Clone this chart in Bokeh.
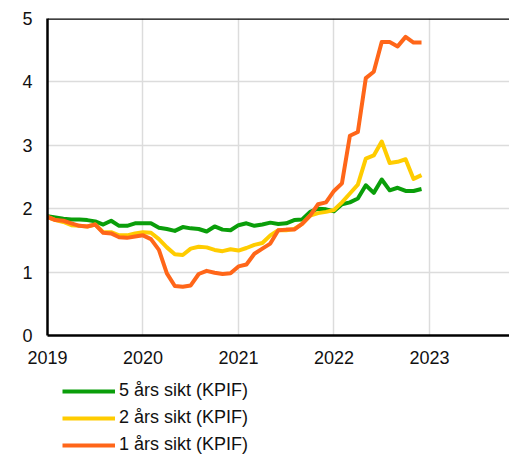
from bokeh.plotting import figure
from bokeh.layouts import column
from bokeh.models import (Range1d, FixedTicker, Span, Legend, LegendItem,
                          ColumnDataSource)
from bokeh.embed import file_html
from bokeh.resources import INLINE

# Monthly observations, Jan 2019 - Dec 2022
start_year = 2019
n_months = 48

five_year = [1.88, 1.86, 1.84, 1.83, 1.83, 1.82, 1.80, 1.75, 1.81, 1.73, 1.73, 1.77,
             1.77, 1.77, 1.70, 1.68, 1.65, 1.71, 1.69, 1.68, 1.64, 1.72, 1.67, 1.66,
             1.74, 1.77, 1.73, 1.75, 1.78, 1.76, 1.77, 1.82, 1.83, 1.95, 2.00, 1.99,
             1.96, 2.07, 2.10, 2.16, 2.37, 2.25, 2.46, 2.29, 2.33, 2.28, 2.28, 2.31]

two_year = [1.87, 1.82, 1.79, 1.74, 1.73, 1.72, 1.75, 1.63, 1.63, 1.58, 1.58, 1.61,
            1.63, 1.62, 1.52, 1.39, 1.28, 1.27, 1.37, 1.40, 1.39, 1.35, 1.33, 1.36,
            1.34, 1.38, 1.43, 1.46, 1.58, 1.66, 1.66, 1.68, 1.76, 1.89, 1.93, 1.95,
            1.98, 2.10, 2.24, 2.38, 2.79, 2.84, 3.06, 2.72, 2.74, 2.78, 2.47, 2.53]

one_year = [1.87, 1.82, 1.81, 1.77, 1.73, 1.72, 1.75, 1.62, 1.61, 1.55, 1.54, 1.56,
            1.58, 1.52, 1.35, 0.98, 0.78, 0.77, 0.79, 0.97, 1.02, 0.99, 0.97, 0.98,
            1.09, 1.12, 1.29, 1.37, 1.45, 1.66, 1.67, 1.67, 1.76, 1.89, 2.07, 2.10,
            2.28, 2.40, 3.15, 3.21, 4.06, 4.16, 4.63, 4.63, 4.56, 4.71, 4.62, 4.62]

series_labels = ["5 års sikt (KPIF)", "2 års sikt (KPIF)", "1 års sikt (KPIF)"]
series_colors = ["#0a9e0a", "#ffcc00", "#ff6619"]

x_ticks = [2019, 2020, 2021, 2022, 2023]
y_ticks = [0, 1, 2, 3, 4, 5]

x = [start_year + i / 12 for i in range(n_months)]

FONT = "Liberation Sans"

# ---- main chart ----
p = figure(width=509, height=370, output_backend="svg", toolbar_location=None,
           x_range=Range1d(2019, 2023.838), y_range=Range1d(0, 5),
           min_border_left=47, min_border_top=18, min_border_right=0,
           min_border_bottom=35)
p.outline_line_color = None
p.background_fill_color = "white"
p.border_fill_color = "white"

sources = [ColumnDataSource(dict(x=x, y=vals))
           for vals in (five_year, two_year, one_year)]

for src, col in zip(sources, series_colors):
    p.line("x", "y", source=src, line_color=col, line_width=4,
           line_join="round")

p.xaxis.ticker = FixedTicker(ticks=x_ticks)
p.yaxis.ticker = FixedTicker(ticks=y_ticks)
for ax in (p.xaxis[0], p.yaxis[0]):
    ax.axis_line_color = "black"
    ax.axis_line_width = 2.5
    ax.major_tick_line_color = None
    ax.minor_tick_line_color = None
    ax.major_label_text_font = FONT
    ax.major_label_text_font_size = "18px"
    ax.major_label_text_color = "#111111"
p.xaxis.major_label_standoff = 9
p.yaxis.major_label_standoff = 9

p.xgrid.grid_line_color = "#dcdcdc"
p.ygrid.grid_line_color = "#dcdcdc"
p.xgrid.grid_line_width = 1.5
p.ygrid.grid_line_width = 1.5

p.add_layout(Span(location=5, dimension="width", line_color="black",
                  line_width=2.5))

# ---- legend strip (same series, outside its view so only the legend shows) ----
q = figure(width=509, height=85, output_backend="svg", toolbar_location=None,
           x_range=Range1d(0, 1), y_range=Range1d(0, 1),
           x_axis_type=None, y_axis_type=None,
           min_border_left=47, min_border_top=0, min_border_right=0,
           min_border_bottom=0)
q.outline_line_color = None
q.xgrid.visible = False
q.ygrid.visible = False
q.border_fill_color = "white"

legend_renderers = [q.line("x", "y", source=src, line_color=col, line_width=4)
                    for src, col in zip(sources, series_colors)]

items = [LegendItem(label=lab, renderers=[r])
         for lab, r in zip(series_labels, legend_renderers)]
legend = Legend(items=items, location=(15, 0), orientation="vertical",
                padding=0, margin=0, spacing=6, glyph_width=53,
                glyph_height=20, label_height=20, label_standoff=4,
                label_text_font=FONT, label_text_font_size="18px",
                label_text_color="#111111",
                border_line_color=None, background_fill_alpha=0)
q.add_layout(legend)

layout = column(p, q, spacing=0)
open("out.html", "w").write(file_html(layout, INLINE))
